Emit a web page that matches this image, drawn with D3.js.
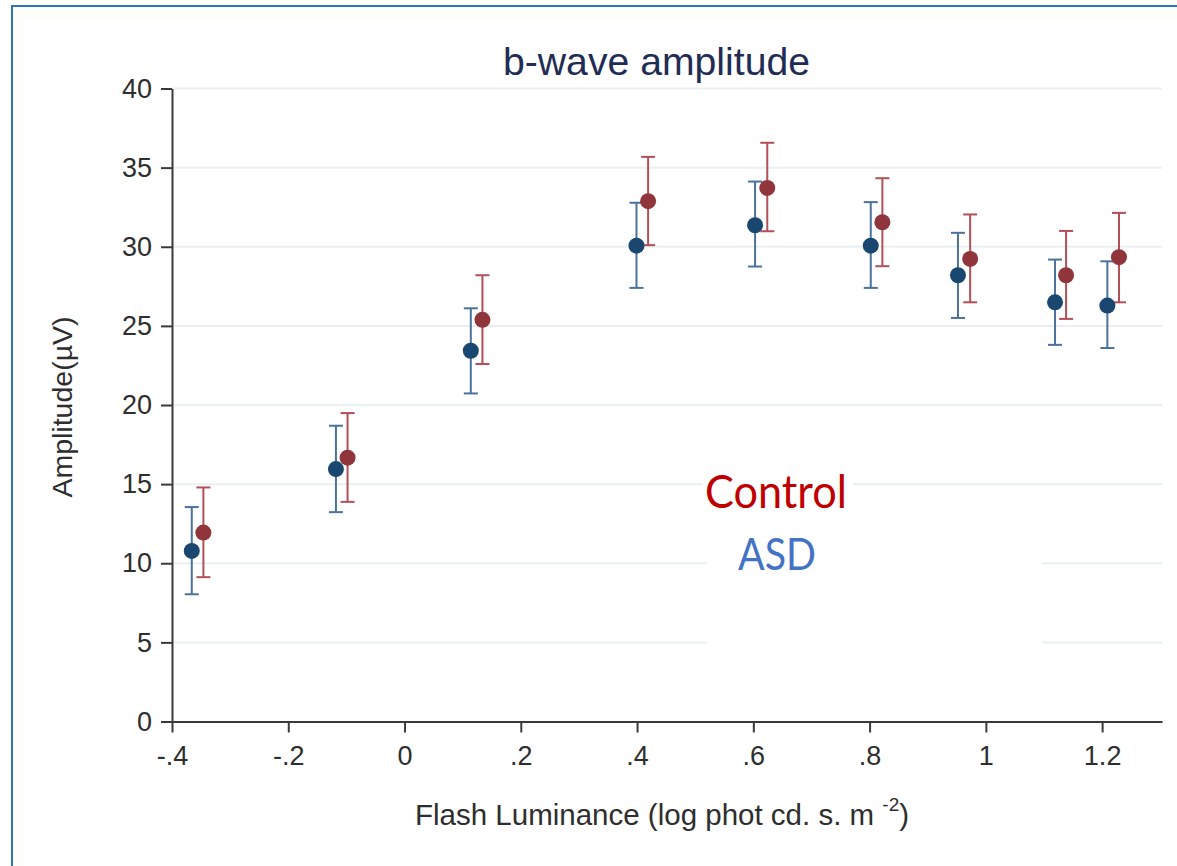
<!DOCTYPE html>
<html>
<head>
<meta charset="utf-8">
<script src="https://cdn.jsdelivr.net/npm/d3@7"></script>
<style>
  html, body { margin: 0; padding: 0; background: #ffffff; }
  svg { display: block; }
</style>
</head>
<body>
<div id="chart"></div>
<script>
// ---- Data ----
const xTicks = [-0.4, -0.2, 0, 0.2, 0.4, 0.6, 0.8, 1, 1.2];
const xTickLabels = ["-.4", "-.2", "0", ".2", ".4", ".6", ".8", "1", "1.2"];
const yTicks = [0, 5, 10, 15, 20, 25, 30, 35, 40];

const asdX    = [-0.366, -0.118, 0.114, 0.399, 0.603, 0.802, 0.952, 1.119, 1.209];
const asdMean = [10.78, 15.95, 23.43, 30.07, 31.36, 30.07, 28.20, 26.49, 26.28];
const asdLo   = [8.04, 13.23, 20.73, 27.40, 28.75, 27.40, 25.50, 23.80, 23.60];
const asdHi   = [13.55, 18.69, 26.11, 32.78, 34.12, 32.82, 30.88, 29.19, 29.08];

const ctlX    = [-0.346, -0.098, 0.134, 0.419, 0.624, 0.822, 0.973, 1.138, 1.229];
const ctlMean = [11.94, 16.67, 25.38, 32.88, 33.72, 31.55, 29.23, 28.20, 29.34];
const ctlLo   = [9.12, 13.88, 22.59, 30.10, 30.98, 28.77, 26.49, 25.44, 26.49];
const ctlHi   = [14.79, 19.49, 28.20, 35.68, 36.57, 34.33, 32.04, 31.00, 32.14];

const titleText = "b-wave amplitude";
const yTitle = "Amplitude(\u00B5V)";
const legendLabels = ["Control", "ASD"];

// ---- Layout ----
const W = 1177, H = 866;
const svg = d3.select("#chart").append("svg").attr("width", W).attr("height", H);

// outer frame
svg.append("rect").attr("x", 12).attr("y", 6).attr("width", W + 10).attr("height", H + 10)
  .attr("fill", "#fdfdf9").attr("stroke", "#2f75b5").attr("stroke-width", 2);
svg.append("rect").attr("x", 24).attr("y", 18).attr("width", W).attr("height", H)
  .attr("fill", "#ffffff");

const x = d3.scaleLinear().domain([-0.4, 1.303]).range([172, 1162]);
const y = d3.scaleLinear().domain([0, 40]).range([721.5, 88.5]);

const font = "'Liberation Sans', Arial, Helvetica, sans-serif";

// gridlines
svg.append("g").selectAll("line").data(yTicks.filter(d => d > 0)).join("line")
  .attr("x1", x(-0.4)).attr("x2", x(1.303))
  .attr("y1", d => y(d)).attr("y2", d => y(d))
  .attr("stroke", "#eaf0f1").attr("stroke-width", 2);

// legend background boxes (white, covering grid)
svg.append("rect").attr("x", 703).attr("y", 468).attr("width", 150).attr("height", 48).attr("fill", "#ffffff");
svg.append("rect").attr("x", 707).attr("y", 520).attr("width", 335).attr("height", 148).attr("fill", "#ffffff");

// axes
const axisColor = "#3a3a3a";
const yAxis = svg.append("g").attr("transform", `translate(${x(-0.4)},0)`)
  .call(d3.axisLeft(y).tickValues(yTicks).tickSize(11).tickSizeOuter(0).tickPadding(9).tickFormat(d3.format("d")));
const xAxis = svg.append("g").attr("transform", `translate(0,${y(0)})`)
  .call(d3.axisBottom(x).tickValues(xTicks).tickSize(11).tickSizeOuter(0).tickPadding(13)
    .tickFormat((d, i) => xTickLabels[i]));

[yAxis, xAxis].forEach(g => {
  g.select(".domain").attr("stroke", axisColor).attr("stroke-width", 2);
  g.selectAll(".tick line").attr("stroke", axisColor).attr("stroke-width", 2);
  g.selectAll(".tick text").attr("fill", "#2e2e2e").style("font-family", font).style("font-size", "27px");
});

// error bars
function drawBars(xs, lo, hi, color) {
  const g = svg.append("g").attr("stroke", color).attr("stroke-width", 2).attr("fill", "none");
  xs.forEach((xv, i) => {
    const px = x(xv);
    g.append("line").attr("x1", px).attr("x2", px).attr("y1", y(lo[i])).attr("y2", y(hi[i]));
    g.append("line").attr("x1", px - 7).attr("x2", px + 7).attr("y1", y(lo[i])).attr("y2", y(lo[i]));
    g.append("line").attr("x1", px - 7).attr("x2", px + 7).attr("y1", y(hi[i])).attr("y2", y(hi[i]));
  });
}
drawBars(asdX, asdLo, asdHi, "#4a729b");
drawBars(ctlX, ctlLo, ctlHi, "#b24f57");

function drawPoints(xs, ys, color) {
  svg.append("g").selectAll("circle").data(xs).join("circle")
    .attr("cx", d => x(d)).attr("cy", (d, i) => y(ys[i])).attr("r", 8)
    .attr("fill", color);
}
drawPoints(asdX, asdMean, "#1a476f");
drawPoints(ctlX, ctlMean, "#90353b");

// title
svg.append("text").attr("x", 656.5).attr("y", 75).attr("text-anchor", "middle")
  .attr("fill", "#1f2d55").style("font-family", font).style("font-size", "39px")
  .attr("textLength", 307).attr("lengthAdjust", "spacingAndGlyphs")
  .text(titleText);

// y axis title
svg.append("text").attr("transform", "translate(72,407) rotate(-90)").attr("text-anchor", "middle")
  .attr("fill", "#2e2e2e").style("font-family", font).style("font-size", "28.5px")
  .text(yTitle);

// x axis title with superscript
const xt = svg.append("text").attr("x", 415).attr("y", 825)
  .attr("fill", "#2e2e2e").style("font-family", font).style("font-size", "29.5px");
xt.append("tspan").text("Flash Luminance (log phot cd. s. m ");
xt.append("tspan").attr("dy", -14).style("font-size", "19px").text("-2");
xt.append("tspan").attr("dy", 14).text(")");

// legend text
const legendFont = "Lato, 'Open Sans', 'Noto Sans', sans-serif";
svg.append("text").attr("x", 705).attr("y", 508).attr("fill", "#c00000")
  .style("font-family", legendFont).style("font-size", "46px")
  .attr("textLength", 142).attr("lengthAdjust", "spacingAndGlyphs")
  .text(legendLabels[0]);
svg.append("text").attr("x", 738).attr("y", 570).attr("fill", "#4472c4")
  .style("font-family", legendFont).style("font-size", "45px")
  .attr("textLength", 78).attr("lengthAdjust", "spacingAndGlyphs")
  .text(legendLabels[1]);
</script>
</body>
</html>
